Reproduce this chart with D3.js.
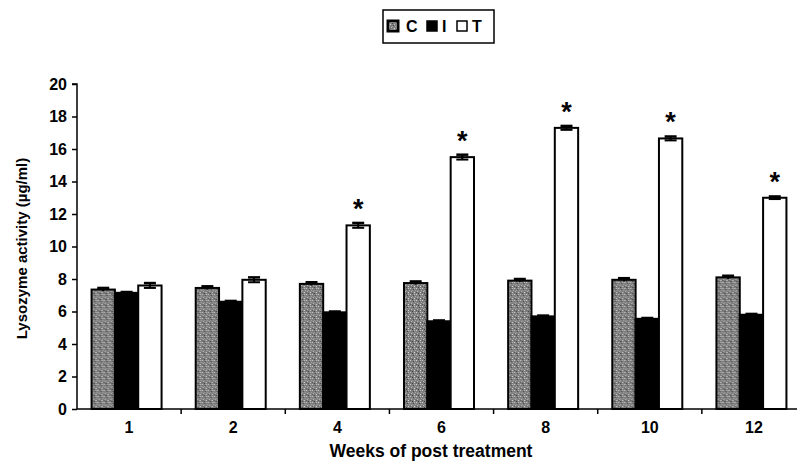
<!DOCTYPE html>
<html>
<head>
<meta charset="utf-8">
<script src="https://cdn.jsdelivr.net/npm/d3@7"></script>
<style>
  body { margin: 0; background: #fff; }
  svg { display: block; }
  text { font-family: "Liberation Sans", Arial, sans-serif; font-weight: bold; fill: #000; }
</style>
</head>
<body>
<svg id="chart" width="797" height="468"></svg>
<script>
const weeks = ["1", "2", "4", "6", "8", "10", "12"];
const seriesNames = ["C", "I", "T"];
const valuesC = [7.35, 7.45, 7.7, 7.75, 7.9, 7.95, 8.1];
const valuesI = [7.15, 6.6, 5.95, 5.4, 5.7, 5.55, 5.8];
const valuesT = [7.6, 7.95, 11.3, 15.5, 17.3, 16.65, 13.0];
const errC = [0.1, 0.1, 0.1, 0.1, 0.1, 0.1, 0.1];
const errI = [0.05, 0.05, 0.05, 0.05, 0.05, 0.05, 0.05];
const errT = [0.15, 0.15, 0.15, 0.15, 0.12, 0.12, 0.08];
const significant = [false, false, true, true, true, true, true];
const yTicks = [0, 2, 4, 6, 8, 10, 12, 14, 16, 18, 20];
const yTitle = "Lysozyme activity (µg/ml)";
const xTitle = "Weeks of post treatment";

(function () {
const svg = d3.select("#chart");

const defs = svg.append("defs");
const pat = defs.append("pattern").attr("id", "speckle")
  .attr("patternUnits", "userSpaceOnUse").attr("width", 6).attr("height", 6);
pat.append("rect").attr("width", 6).attr("height", 6).attr("fill", "#7e7e7e");
[[0,0,"#cfcfcf"],[3,1,"#4a4a4a"],[1,3,"#b8b8b8"],[4,4,"#dadada"],[2,5,"#3e3e3e"],[5,2,"#a4a4a4"],[0,4,"#5a5a5a"],[4,0,"#c2c2c2"],[2,2,"#999"]]
  .forEach(([px,py,c]) => pat.append("rect").attr("x", px).attr("y", py).attr("width", 1).attr("height", 1).attr("fill", c));

const fills = { C: "url(#speckle)", I: "#000", T: "#fff" };

const mLeft = 77, mRight = 806, mTop = 84, mBottom = 409;

const x0 = d3.scaleBand().domain(weeks).range([mLeft, mRight]).paddingInner(0).paddingOuter(0);
const groupW = 70;
const x1 = d3.scaleBand().domain(seriesNames).range([0, groupW]);
const groupOffset = (x0.bandwidth() - groupW) / 2 - 2.5;
const y = d3.scaleLinear().domain([0, 20]).range([mBottom, mTop]);

const data = weeks.map((w, i) => ({
  week: w,
  sig: significant[i],
  bars: [
    { s: "C", v: valuesC[i], e: errC[i] },
    { s: "I", v: valuesI[i], e: errI[i] },
    { s: "T", v: valuesT[i], e: errT[i] }
  ]
}));

const g = svg.append("g").selectAll("g").data(data).join("g")
  .attr("transform", d => `translate(${x0(d.week) + groupOffset},0)`);

g.selectAll("rect.bar").data(d => d.bars).join("rect")
  .attr("class", "bar")
  .attr("x", d => x1(d.s))
  .attr("y", d => y(d.v))
  .attr("width", x1.bandwidth())
  .attr("height", d => y(0) - y(d.v))
  .attr("fill", d => fills[d.s])
  .attr("stroke", "#000")
  .attr("stroke-width", 2);

const eb = g.selectAll("g.err").data(d => d.bars).join("g").attr("class", "err");
eb.append("line")
  .attr("x1", d => x1(d.s) + x1.bandwidth() / 2).attr("x2", d => x1(d.s) + x1.bandwidth() / 2)
  .attr("y1", d => y(d.v - d.e)).attr("y2", d => y(d.v + d.e))
  .attr("stroke", "#000").attr("stroke-width", 2);
eb.append("line")
  .attr("x1", d => x1(d.s) + x1.bandwidth() / 2 - 6).attr("x2", d => x1(d.s) + x1.bandwidth() / 2 + 6)
  .attr("y1", d => y(d.v + d.e)).attr("y2", d => y(d.v + d.e))
  .attr("stroke", "#000").attr("stroke-width", 2.5);
eb.append("line")
  .attr("x1", d => x1(d.s) + x1.bandwidth() / 2 - 6).attr("x2", d => x1(d.s) + x1.bandwidth() / 2 + 6)
  .attr("y1", d => y(d.v - d.e)).attr("y2", d => y(d.v - d.e))
  .attr("stroke", d => d.s === "T" ? "#000" : "none").attr("stroke-width", 2);

g.filter(d => d.sig).append("text")
  .attr("x", x1("T") + x1.bandwidth() / 2)
  .attr("y", d => y(d.bars[2].v + d.bars[2].e) - 5)
  .attr("text-anchor", "middle")
  .attr("font-size", 27)
  .text("*");

const yAxis = d3.axisLeft(y).tickValues(yTicks).tickSize(5).tickPadding(5).tickFormat(d3.format("d"));
const ya = svg.append("g").attr("transform", `translate(${mLeft},0)`).call(yAxis);
ya.select(".domain").attr("stroke", "#000").attr("stroke-width", 1.5).attr("d", `M-5,${mTop}H0V${mBottom}`);
ya.selectAll(".tick line").attr("stroke", "#000").attr("stroke-width", 1.5);
ya.selectAll(".tick text").attr("font-size", 16).attr("font-family", "Liberation Sans, Arial, sans-serif").attr("font-weight", "bold").attr("fill", "#000");

const xAxis = d3.axisBottom(x0).tickSize(0).tickPadding(13);
const xa = svg.append("g").attr("transform", `translate(0,${mBottom})`).call(xAxis);
xa.select(".domain").attr("stroke", "#000").attr("stroke-width", 1.5).attr("d", `M${mLeft},0H${mRight}`);
xa.selectAll(".tick text").attr("font-size", 16).attr("font-family", "Liberation Sans, Arial, sans-serif").attr("font-weight", "bold").attr("fill", "#000");
xa.selectAll("line.sep").data(weeks.slice(1)).join("line").attr("class", "sep")
  .attr("x1", d => x0(d)).attr("x2", d => x0(d))
  .attr("y1", 0).attr("y2", 5).attr("stroke", "#000").attr("stroke-width", 1.5);

svg.append("text")
  .attr("transform", `translate(27,${(mTop + mBottom) / 2 + 2}) rotate(-90)`)
  .attr("text-anchor", "middle").attr("font-size", 15)
  .text(yTitle);
svg.append("text")
  .attr("x", 431).attr("y", 457)
  .attr("text-anchor", "middle").attr("font-size", 17.5)
  .text(xTitle);

const lg = svg.append("g");
lg.append("rect").attr("x", 383).attr("y", 10).attr("width", 111).attr("height", 33)
  .attr("fill", "#fff").attr("stroke", "#000").attr("stroke-width", 1.5);
const legendItems = [
  { s: "C", sx: 388, tx: 406 },
  { s: "I", sx: 427, tx: 442 },
  { s: "T", sx: 457, tx: 472 }
];
legendItems.forEach(it => {
  lg.append("rect").attr("x", it.sx).attr("y", 21).attr("width", 10).attr("height", 10)
    .attr("fill", it.s === "C" ? "#fff" : fills[it.s]).attr("stroke", "#000").attr("stroke-width", it.s === "C" ? 3 : 1.5);
  if (it.s === "C") {
    lg.append("rect").attr("x", it.sx + 2).attr("y", 23).attr("width", 6).attr("height", 6).attr("fill", "url(#speckle)");
  }
  lg.append("text").attr("x", it.tx).attr("y", 32).attr("font-size", 16).text(it.s);
});
})();
</script>
</body>
</html>
